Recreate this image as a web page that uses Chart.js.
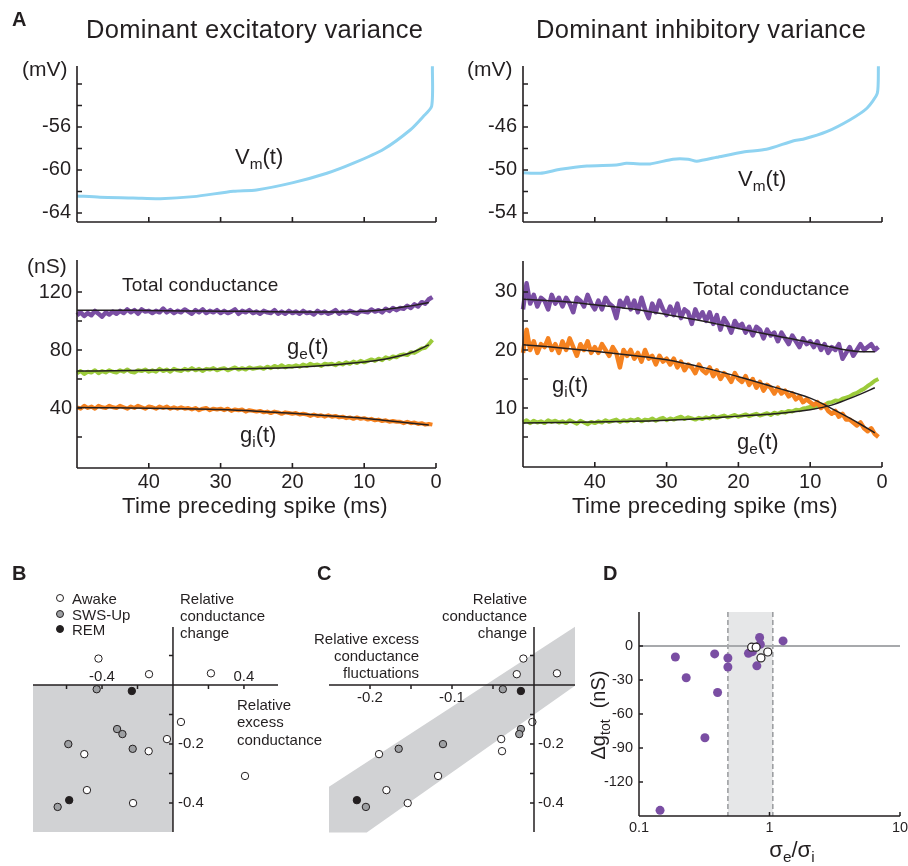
<!DOCTYPE html>
<html>
<head>
<meta charset="utf-8">
<script src="https://cdn.jsdelivr.net/npm/chart.js@4.4.1/dist/chart.umd.min.js"></script>
<style>
  html, body { margin: 0; padding: 0; background: #fff; }
  #fig { position: relative; width: 908px; height: 866px; overflow: hidden;
         font-family: 'Liberation Sans', Arial, Helvetica, sans-serif; color: #231f20; }
  #fig canvas { position: absolute; left: 0; top: 0; }
  .t { position: absolute; white-space: nowrap; line-height: 1; }
  .sub { font-size: 0.7em; position: relative; top: 0.35em; }
  .dot { position: absolute; width: 6px; height: 6px; border: 1px solid #231f20; border-radius: 50%; }
</style>
</head>
<body>
<div id="fig">
  <canvas id="cVmE" width="908" height="866"></canvas>
  <canvas id="cVmI" width="908" height="866"></canvas>
  <canvas id="cGE" width="908" height="866"></canvas>
  <canvas id="cGI" width="908" height="866"></canvas>
  <canvas id="cB" width="908" height="866"></canvas>
  <canvas id="cC" width="908" height="866"></canvas>
  <canvas id="cD" width="908" height="866"></canvas>
</div>
<script>
const INK = '#231f20';
const FONT = "'Liberation Sans', Arial, Helvetica, sans-serif";
const W = 908, H = 866;

// colours
const PURPLE = '#7a4ea3';
const GREEN = '#9ccb3b';
const ORANGE = '#f58220';
const SKY = '#8fd3f1';

// ---- Panel A, top: Vm(t) before spike (ms before spike, mV) ----
const tVmExc = [50, 46.8, 42.2, 38.4, 33.8, 28.2, 25, 19.9, 15.2, 11.5, 7.3, 3.6, 1.8, 0.6, 0.5];
const vmExc = [-62.42, -62.54, -62.6, -62.67, -62.48, -61.98, -61.86, -61.18, -60.31, -59.37, -58.07, -56.28, -55.04, -54.05, -50.35];
const tVmInh = [50, 47.6, 44.8, 41.1, 37, 35.6, 32.3, 29.1, 27, 25.8, 23, 19.3, 16.1, 12.4, 11, 7.7, 4.5, 2.1, 0.65, 0.5];
const vmInh = [-50.25, -50.31, -49.94, -49.63, -49.53, -49.38, -49.44, -49.0, -49.0, -49.19, -48.82, -48.33, -48.08, -47.3, -47.14, -46.44, -45.35, -44.26, -42.86, -40.35];
const vmExcTicks = [-52, -54, -56, -58, -60, -62, -64];
const vmExcLabels = [-56, -60, -64];
const vmInhTicks = [-42, -44, -46, -48, -50, -52, -54];
const vmInhLabels = [-46, -50, -54];
const timeTicks = [40, 30, 20, 10, 0];

// ---- Panel A, bottom: conductances (nS), sampled every 0.5 ms ----
const tNoise = [50,49.5,49,48.5,48,47.5,47,46.5,46,45.5,45,44.5,44,43.5,43,42.5,42,41.5,41,40.5,40,39.5,39,38.5,38,37.5,37,36.5,36,35.5,35,34.5,34,33.5,33,32.5,32,31.5,31,30.5,30,29.5,29,28.5,28,27.5,27,26.5,26,25.5,25,24.5,24,23.5,23,22.5,22,21.5,21,20.5,20,19.5,19,18.5,18,17.5,17,16.5,16,15.5,15,14.5,14,13.5,13,12.5,12,11.5,11,10.5,10,9.5,9,8.5,8,7.5,7,6.5,6,5.5,5,4.5,4,3.5,3,2.5,2,1.5,1,0.5];

// dominant excitatory variance
const gTotE = [104,106,103.5,105.5,104,107,105,103,106,104.5,106.5,
  105,107,105.5,108,106,107.5,105,108,106.5,107,
  105.5,107,106,108.5,106,107.5,105.5,107,106,108,
  106.5,105,107.5,106,108,105.5,107,106,107.5,105.5,
  107,105.5,106.5,108,105,107,106,107.5,105.5,106.5,
  105,107,106,105.5,107.5,105,106.5,105,107,105.5,
  106.5,105,107,105.5,106,104.5,107,105.5,106.5,105,
  106,107.5,105,106.5,105.5,107,106,105,107,106.5,
  106,108,106.5,107.5,106,108.5,107,109,107.5,109,
  108.5,110.5,109,111.5,110,113,112,115,116.5];
const gExcE = [64,65.5,63.5,65,64.5,66,64,65.5,64.5,66,65,
  64.5,66,65,66.5,65,64.5,66,65.5,66.5,65,
  66,65,67,65.5,66.5,65,67,66,65.5,67,
  66,67.5,66,67,65.5,67,66.5,67.5,66,67,
  67.5,66,67,68,66.5,67.5,66.5,68,67,67.5,
  68,67,68.5,67.5,69,68,69.5,68,69,68.5,
  69.5,68.5,70,69,70.5,69.5,70,69,70.5,70,
  70.5,69.5,71,70,71.5,70.5,72,71,72.5,71.5,
  72.5,73.5,72.5,74,73,75,74,75.5,75,76.5,
  77,76.5,78.5,78,79.5,81,81.5,84,87];
const gInhE = [40.5,39.5,41.5,40,41,39.5,41.5,40.5,40,41.5,40.5,
  40,41.5,40.5,39.5,41,40,41.5,40.5,39.5,41,
  40.5,39.5,41,40,41,39.5,40.5,39.5,40.5,39.5,
  40,39,40,38.5,39.5,40,38.5,39.5,39,39.5,
  38.5,39.5,38,39,38.5,39,37.5,38.5,38,37.5,
  38,37,37.5,36.5,37.5,37,36,37,36.5,36,
  36.5,35.5,36,35.5,34.5,35.5,34.5,35,34,35,
  34,34.5,33.5,34,33,33.5,32.5,33.5,32.5,33,
  32,32.5,31.5,32,31,31.5,30.5,31,30.5,30.5,
  29.5,30.5,29.5,30,29,29.5,28.5,29,28.5];

// dominant inhibitory variance
const gTotI = [27,31.5,28,29.5,27.5,29,28.5,27,29.5,28,29,
  27.5,29,28,26.5,29,28.5,27.5,29.5,28,27,
  28.5,27,29,28,27.5,25.5,28.5,27.5,29,27,
  28.5,26.5,29,27,25.5,28,26.5,28.5,27,26,
  27.5,26,28,25.5,27,26.5,24.5,27,25.5,26.5,
  25,26.5,24.5,26,23.5,25.5,24.5,23,25,24,
  24.5,23,24,22.5,24,23.5,22,23.5,22.5,23,
  21.5,23,22,21,22.5,21.5,20.5,22,21,21.5,
  20.5,21.5,20,21,19.5,20.5,20,21,18.5,19.5,
  20.5,19,20,21,20,20.5,21,20,20.5];
const gExcI = [7.5,7.9,7.4,7.8,7.5,7.7,7.4,7.9,7.6,7.8,7.5,
  7.7,7.4,7.9,7.6,7.3,7.8,7.5,7.2,7.6,7.4,
  7.7,7.5,7.9,7.6,7.8,8.0,7.6,7.9,7.7,8.0,
  7.8,8.1,7.7,8.0,7.9,8.2,7.8,8.1,8.3,7.9,
  8.2,8.0,8.3,8.5,8.1,8.4,8.2,8.0,8.3,8.1,
  8.4,8.2,8.6,8.3,8.5,8.7,8.4,8.6,8.8,8.5,
  8.7,8.9,8.6,8.8,9.0,8.7,8.9,9.1,8.8,9.2,
  9.0,9.3,9.2,9.5,9.4,9.7,9.6,9.9,10.0,10.2,
  10.1,10.4,10.6,10.5,10.9,11.0,11.3,11.2,11.6,11.8,
  12.0,12.4,12.6,13.0,13.3,13.8,14.2,14.7,15.0];
const gInhI = [19.5,23.5,20,21.5,19.5,21,20.5,22,20,21,19.5,
  21.5,20,22,20.5,19,21,20,21.5,19.5,20.5,
  19.5,21,20,19,20.5,19.5,17,20,19,20,
  18.5,19.5,18,20,18.5,19,17.5,19,18,18.5,
  17.5,18.5,17,18,16.5,17.5,17,16,17.5,16.5,
  16,17,15.5,16.5,15,16,15.5,14.5,16,15,
  14.5,15.5,14,15,13.5,14.5,13,14,13.5,12.5,
  13.5,12.5,13,12,12.5,11.5,12,11,11.5,11,
  10.5,11,10,10.5,9.5,9,9.5,8.5,9,8,
  8,7.5,7,7.5,6.5,6,6.5,5.5,5];

// smooth fits
const tFit = [50, 45, 40, 35, 30, 25, 20, 15, 10, 7, 5, 3, 1];
const fitTotE = [107.5, 107.4, 107.3, 107.0, 106.8, 106.5, 106.2, 106.2, 106.8, 108.0, 109.3, 110.8, 112.8];
const fitExcE = [65.5, 65.7, 66.0, 66.4, 66.8, 67.3, 68.0, 69.5, 71.7, 73.8, 76.0, 79.0, 83.5];
const fitInhE = [40.3, 40.1, 39.8, 39.4, 38.9, 37.8, 36.3, 34.7, 32.9, 31.4, 30.3, 29.3, 28.3];
const fitTotI = [28.75, 28.4, 27.8, 27.1, 26.1, 25.0, 23.7, 22.5, 21.3, 20.5, 20.0, 19.7, 19.7];
const fitExcI = [7.4, 7.5, 7.6, 7.7, 7.9, 8.2, 8.6, 9.0, 9.7, 10.5, 11.4, 12.4, 13.5];
const fitInhI = [20.9, 20.4, 19.8, 19.1, 18.3, 17.0, 15.4, 13.6, 11.7, 9.9, 8.6, 7.2, 5.7];

const gETicks = [120, 100, 80, 60, 40, 20];
const gELabels = [120, 80, 40];
const gITicks = [30, 25, 20, 15, 10, 5];
const gILabels = [30, 20, 10];

// ---- Panels B & C: one point per cell, same y in both panels ----
const yAwake = [0.09, 0.037, 0.04, -0.125, -0.183, -0.224, -0.234, -0.356, -0.4, -0.308];
const xAwakeB = [-0.42, -0.135, 0.214, 0.045, -0.034, -0.137, -0.5, -0.485, -0.225, 0.406];
const xAwakeC = [-0.013, -0.021, 0.028, -0.002, -0.04, -0.039, -0.189, -0.18, -0.154, -0.117];
const ySws = [-0.014, -0.149, -0.166, -0.216, -0.2, -0.413];
const xSwsB = [-0.43, -0.315, -0.285, -0.227, -0.59, -0.65];
const xSwsC = [-0.038, -0.016, -0.018, -0.165, -0.111, -0.205];
const yRem = [-0.02, -0.39];
const xRemB = [-0.232, -0.585];
const xRemC = [-0.016, -0.216];
const bandC = [[-0.25, -0.345], [0.05, 0.198], [0.05, -0.002], [-0.204, -0.5], [-0.25, -0.5]];
const relYTicks = [0.1, -0.1, -0.2, -0.3, -0.4];
const relYLabels = [-0.2, -0.4];
const bXTicks = [-0.6, -0.4, -0.2, 0.2, 0.4];
const bXLabels = [-0.4, 0.4];
const cXTicks = [-0.2, -0.15, -0.1, -0.05];
const cXLabels = [-0.2, -0.1];

// ---- Panel D: sigma_e / sigma_i vs change of total conductance ----
const dPurpleX = [0.19, 0.23, 0.38, 0.48, 0.48, 0.40, 0.32, 0.145, 0.69, 0.74, 0.84, 0.85, 0.80, 1.27];
const dPurpleY = [-9.7, -28, -7, -10.6, -18.5, -41, -81, -145, -6.5, -5, 7.5, 1.5, -17.5, 4.5];
const dWhiteX = [0.73, 0.79, 0.86, 0.97];
const dWhiteY = [-1, -1, -10.5, -5.3];
const dBand = [0.48, 1.06];
const dYTicks = [0, -30, -60, -90, -120];
const dXTicks = [0.1, 1, 10];

// ---------- helpers ----------
const xy = (xs, ys) => xs.map((x, i) => ({ x: x, y: ys[i] }));

function trace(xs, ys, color, width, tension, order) {
  return { data: xy(xs, ys), showLine: true, borderColor: color, borderWidth: width,
           pointRadius: 0, tension: tension, borderJoinStyle: 'round', clip: false, order: order };
}
function dots(xs, ys, fill, r, border) {
  return { data: xy(xs, ys), showLine: false, pointRadius: r, pointBackgroundColor: fill,
           pointBorderColor: INK, pointBorderWidth: border, clip: false, order: 0 };
}

function axesPlugin(s) {
  return {
    id: 'axes',
    afterDatasetsDraw(chart) {
      const { ctx, chartArea: a } = chart;
      const xs = chart.scales.x, ys = chart.scales.y;
      const ay = s.xAt === undefined ? a.bottom : ys.getPixelForValue(s.xAt);
      const ax = s.yAt === undefined ? a.left : xs.getPixelForValue(s.yAt);
      ctx.save();
      ctx.strokeStyle = INK; ctx.fillStyle = INK; ctx.lineWidth = s.lw || 1.6;
      ctx.beginPath();
      ctx.moveTo(a.left, ay); ctx.lineTo(a.right, ay);
      ctx.moveTo(ax, a.top); ctx.lineTo(ax, a.bottom);
      (s.xTicks || []).forEach(v => {
        const p = xs.getPixelForValue(v);
        ctx.moveTo(p, ay); ctx.lineTo(p, ay + s.xDir * s.len);
      });
      (s.yTicks || []).forEach(v => {
        const p = ys.getPixelForValue(v);
        ctx.moveTo(ax, p); ctx.lineTo(ax + s.yDir * s.len, p);
      });
      ctx.stroke();
      ctx.font = s.size + 'px ' + FONT;
      ctx.textBaseline = 'middle';
      ctx.textAlign = 'center';
      (s.xLabels || []).forEach(v => ctx.fillText(String(v), xs.getPixelForValue(v), ay + s.xOff));
      ctx.textAlign = s.yOff < 0 ? 'right' : 'left';
      (s.yLabels || []).forEach(v => ctx.fillText(String(v), ax + s.yOff, ys.getPixelForValue(v)));
      ctx.restore();
    }
  };
}

function shadePlugin(items) {
  return {
    id: 'shade',
    beforeDatasetsDraw(chart) {
      const { ctx, chartArea: a } = chart;
      const px = v => chart.scales.x.getPixelForValue(v);
      const py = v => chart.scales.y.getPixelForValue(v);
      ctx.save();
      items.forEach(it => {
        if (it.poly) {
          ctx.beginPath();
          it.poly.forEach(([x, y], i) => i ? ctx.lineTo(px(x), py(y)) : ctx.moveTo(px(x), py(y)));
          ctx.closePath();
          ctx.fillStyle = it.color; ctx.fill();
        }
        if (it.vline !== undefined) {
          ctx.beginPath(); ctx.setLineDash(it.dash || []);
          ctx.strokeStyle = it.color; ctx.lineWidth = it.width;
          ctx.moveTo(px(it.vline), a.top); ctx.lineTo(px(it.vline), a.bottom); ctx.stroke();
          ctx.setLineDash([]);
        }
        if (it.hline !== undefined) {
          ctx.beginPath(); ctx.strokeStyle = it.color; ctx.lineWidth = it.width;
          ctx.moveTo(a.left, py(it.hline)); ctx.lineTo(a.right, py(it.hline)); ctx.stroke();
        }
      });
      ctx.restore();
    }
  };
}

// box = [left, top, right, bottom] of the plot area in page pixels
function makeChart(id, box, xScale, yScale, datasets, axisSpec, shadeItems) {
  const plugins = [];
  if (shadeItems) plugins.push(shadePlugin(shadeItems));
  plugins.push(axesPlugin(axisSpec));
  return new Chart(document.getElementById(id), {
    type: 'scatter',
    data: { datasets: datasets },
    options: {
      responsive: false, animation: false, events: [],
      layout: { padding: { left: box[0], top: box[1], right: W - box[2], bottom: H - box[3] } },
      scales: {
        x: Object.assign({ type: 'linear', display: false }, xScale),
        y: Object.assign({ type: 'linear', display: false }, yScale)
      },
      plugins: { legend: { display: false }, tooltip: { enabled: false } }
    },
    plugins: plugins
  });
}

const timeX = { min: 0, max: 50, reverse: true };

// A: membrane potential
makeChart('cVmE', [77, 66, 436, 222], timeX, { min: -64.84, max: -50.33 },
  [trace(tVmExc, vmExc, SKY, 3, 0.25, 1)],
  { xTicks: timeTicks, xDir: -1, yTicks: vmExcTicks, yDir: 1, len: 5, size: 20, yLabels: vmExcLabels, yOff: -6 });
makeChart('cVmI', [523, 66, 882, 222], timeX, { min: -54.84, max: -40.33 },
  [trace(tVmInh, vmInh, SKY, 3, 0.2, 1)],
  { xTicks: timeTicks, xDir: -1, yTicks: vmInhTicks, yDir: 1, len: 5, size: 20, yLabels: vmInhLabels, yOff: -6 });

// A: conductances
makeChart('cGE', [77, 260, 436, 468], timeX, { min: -1.4, max: 142.1 },
  [trace(tFit, fitTotE, INK, 1.5, 0.4, 0), trace(tFit, fitExcE, INK, 1.5, 0.4, 0), trace(tFit, fitInhE, INK, 1.5, 0.4, 0),
   trace(tNoise, gTotE, PURPLE, 4.5, 0, 3), trace(tNoise, gExcE, GREEN, 4, 0, 2), trace(tNoise, gInhE, ORANGE, 4, 0, 1)],
  { xTicks: timeTicks, xDir: -1, yTicks: gETicks, yDir: 1, len: 5, size: 20,
    xLabels: timeTicks, xOff: 14, yLabels: gELabels, yOff: -5 });
makeChart('cGI', [523, 261, 882, 467], timeX, { min: -0.17, max: 35.34 },
  [trace(tFit, fitTotI, INK, 1.5, 0.4, 0), trace(tFit, fitExcI, INK, 1.5, 0.4, 0), trace(tFit, fitInhI, INK, 1.5, 0.4, 0),
   trace(tNoise, gTotI, PURPLE, 4.5, 0, 3), trace(tNoise, gExcI, GREEN, 4, 0, 2), trace(tNoise, gInhI, ORANGE, 4.5, 0, 1)],
  { xTicks: timeTicks, xDir: -1, yTicks: gITicks, yDir: 1, len: 5, size: 20,
    xLabels: timeTicks, xOff: 15, yLabels: gILabels, yOff: -6 });

// B
const relY = { min: -0.498, max: 0.197 };
makeChart('cB', [33, 627, 278, 832], { min: -0.789, max: 0.592 }, relY,
  [dots(xAwakeB, yAwake, '#ffffff', 3.7, 1), dots(xSwsB, ySws, '#9d9fa2', 3.7, 1), dots(xRemB, yRem, INK, 3.7, 1)],
  { xAt: 0, yAt: 0, xTicks: bXTicks, xDir: 1, yTicks: relYTicks, yDir: -1, len: 4, size: 15, lw: 1.5,
    xLabels: bXLabels, xOff: -8, yLabels: relYLabels, yOff: 5 },
  [{ poly: [[-0.789, 0], [0, 0], [0, -0.498], [-0.789, -0.498]], color: '#d1d2d4' }]);

// C
makeChart('cC', [329, 627, 575, 832], { min: -0.25, max: 0.05 }, relY,
  [dots(xAwakeC, yAwake, '#ffffff', 3.7, 1), dots(xSwsC, ySws, '#9d9fa2', 3.7, 1), dots(xRemC, yRem, INK, 3.7, 1)],
  { xAt: 0, yAt: 0, xTicks: cXTicks, xDir: 1, yTicks: relYTicks, yDir: -1, len: 4, size: 15, lw: 1.5,
    xLabels: cXLabels, xOff: 13, yLabels: relYLabels, yOff: 4 },
  [{ poly: bandC, color: '#d1d2d4' }]);

// D
makeChart('cD', [639, 612, 900, 816], { type: 'logarithmic', min: 0.1, max: 10 }, { min: -150, max: 30 },
  [dots(dWhiteX, dWhiteY, '#ffffff', 4, 1.2), Object.assign(dots(dPurpleX, dPurpleY, PURPLE, 4.5, 0), { order: 1 })],
  { xTicks: dXTicks, xDir: -1, yTicks: dYTicks, yDir: 1, len: 4, size: 14.5, lw: 1.5,
    xLabels: dXTicks, xOff: 12, yLabels: dYTicks, yOff: -6 },
  [{ poly: [[dBand[0], -150], [dBand[1], -150], [dBand[1], 30], [dBand[0], 30]], color: '#e6e7e8' },
   { vline: dBand[0], color: '#9d9fa2', width: 1.6, dash: [5, 3] },
   { vline: dBand[1], color: '#9d9fa2', width: 1.6, dash: [5, 3] },
   { hline: 0, color: '#a7a9ac', width: 2 }]);

// ---------- text ----------
const LABELS = [
  // [html, x, capCentre, size, align, style]
  ['A', 12, 19, 20, 'l', 'font-weight:bold'],
  ['Dominant excitatory variance', 86, 30, 25.5, 'l', 'letter-spacing:0.3px'],
  ['Dominant inhibitory variance', 536, 30, 25.5, 'l', 'letter-spacing:0.3px'],
  ['(mV)', 22, 68, 21, 'l'],
  ['(mV)', 467, 68, 21, 'l'],
  ['V<span class="sub">m</span>(t)', 235, 157, 22, 'l'],
  ['V<span class="sub">m</span>(t)', 738, 179, 22, 'l'],
  ['(nS)', 27, 265, 21, 'l'],
  ['Total conductance', 122, 284, 19, 'l', 'letter-spacing:0.2px'],
  ['g<span class="sub">e</span>(t)', 287, 347, 22, 'l'],
  ['g<span class="sub">i</span>(t)', 240, 435, 22, 'l'],
  ['Total conductance', 693, 288, 19, 'l', 'letter-spacing:0.2px'],
  ['g<span class="sub">i</span>(t)', 552, 385, 22, 'l'],
  ['g<span class="sub">e</span>(t)', 737, 442, 22, 'l'],
  ['Time preceding spike (ms)', 122, 506, 22, 'l', 'letter-spacing:0.3px'],
  ['Time preceding spike (ms)', 572, 506, 22, 'l', 'letter-spacing:0.3px'],
  ['B', 12, 573, 20, 'l', 'font-weight:bold'],
  ['Awake', 72, 598, 15, 'l'],
  ['SWS-Up', 72, 614, 15, 'l'],
  ['REM', 72, 629, 15, 'l'],
  ['Relative', 180, 598, 15, 'l'],
  ['conductance', 180, 615, 15, 'l'],
  ['change', 180, 632, 15, 'l'],
  ['Relative', 237, 704, 15, 'l'],
  ['excess', 237, 721, 15, 'l'],
  ['conductance', 237, 739, 15, 'l'],
  ['C', 317, 573, 20, 'l', 'font-weight:bold'],
  ['Relative', 527, 598, 15, 'r'],
  ['conductance', 527, 615, 15, 'r'],
  ['change', 527, 632, 15, 'r'],
  ['Relative excess', 419, 638, 15, 'r'],
  ['conductance', 419, 655, 15, 'r'],
  ['fluctuations', 419, 672, 15, 'r'],
  ['D', 603, 573, 20, 'l', 'font-weight:bold'],
  ['σ<span class="sub">e</span>/σ<span class="sub">i</span>', 792, 850, 22, 'c']
];
const fig = document.getElementById('fig');
LABELS.forEach(([html, x, y, size, align, style]) => {
  const d = document.createElement('div');
  d.className = 't';
  d.innerHTML = html;
  d.style.cssText = `left:${x}px;top:${y - size / 2}px;font-size:${size}px;` +
    (align === 'c' ? 'transform:translateX(-50%);' : align === 'r' ? 'transform:translateX(-100%);' : '') + (style || '');
  fig.appendChild(d);
});
// rotated y title of D
const yt = document.createElement('div');
yt.className = 't';
yt.innerHTML = 'Δg<span class="sub">tot</span>&nbsp; (nS)';
yt.style.cssText = 'left:598px;top:715px;font-size:20px;transform:translate(-50%,-50%) rotate(-90deg);';
fig.appendChild(yt);
// legend markers of B
[['#ffffff', 598], ['#9d9fa2', 614], [INK, 629]].forEach(([c, y]) => {
  const m = document.createElement('div');
  m.className = 'dot';
  m.style.cssText = `left:${60 - 4}px;top:${y - 4}px;background:${c};`;
  fig.appendChild(m);
});
</script>
</body>
</html>
